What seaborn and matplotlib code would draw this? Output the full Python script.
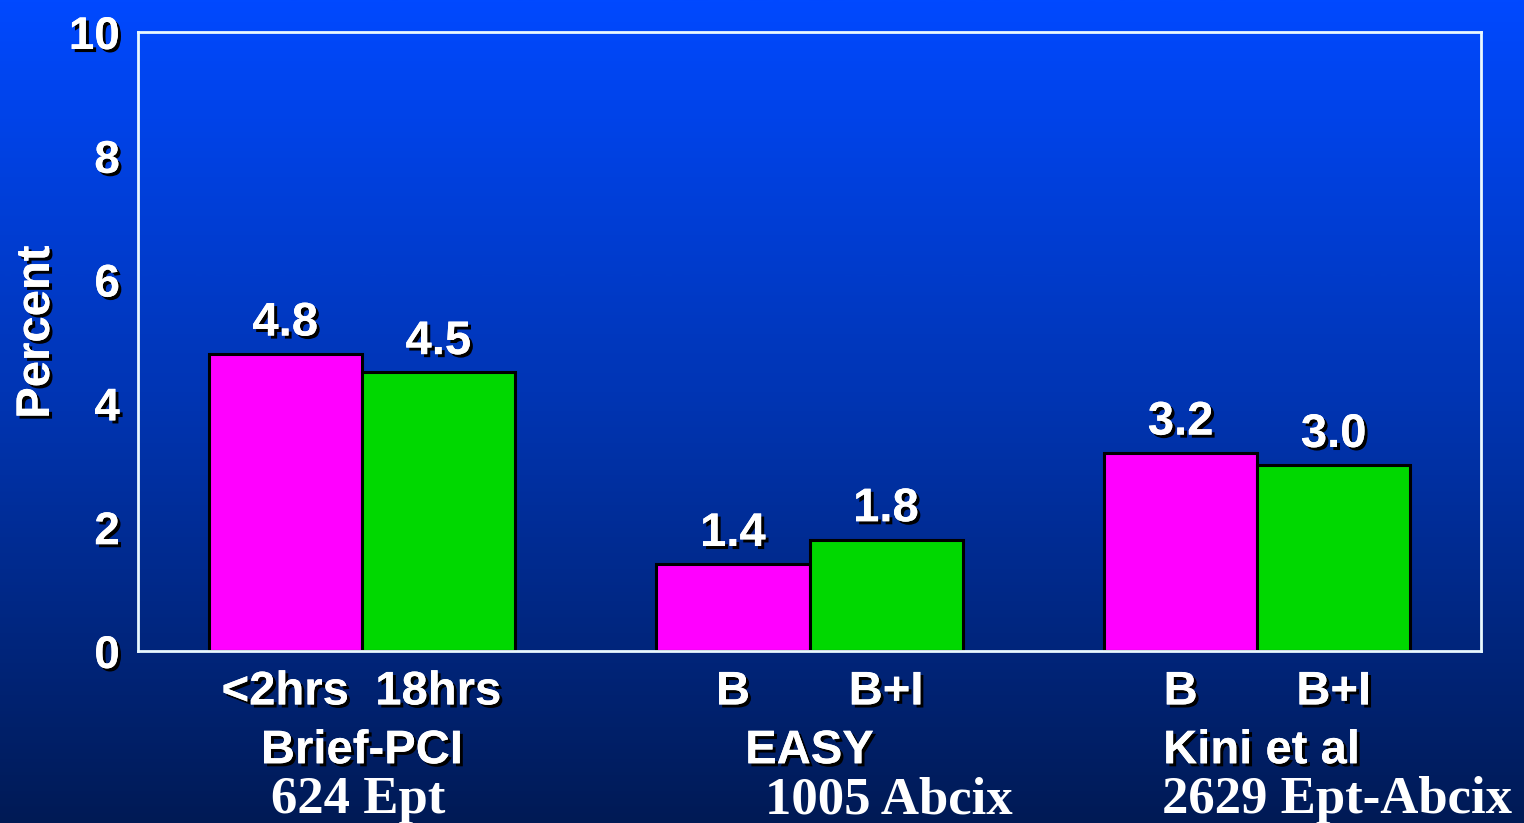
import numpy as np
import pandas as pd
import matplotlib
matplotlib.use("Agg")
import matplotlib.pyplot as plt
import matplotlib.patheffects as pe
from matplotlib.colors import LinearSegmentedColormap
import seaborn as sns

# Study groups, arm labels and event rates (percent)
studies = ["Brief-PCI", "EASY", "Kini et al"]
arm_labels = ["<2hrs", "18hrs", "B", "B+I", "B", "B+I"]
first_arm = [4.8, 1.4, 3.2]
second_arm = [4.5, 1.8, 3.0]
cohorts = ["624 Ept", "1005 Abcix", "2629 Ept-Abcix"]
y_ticks = [0, 2, 4, 6, 8, 10]

df = pd.DataFrame({
    "study": studies * 2,
    "arm": ["first"] * 3 + ["second"] * 3,
    "value": first_arm + second_arm,
})

sns.set_theme(style="white")
plt.rcParams["font.family"] = ["Liberation Sans", "DejaVu Sans"]

shadow = [pe.withSimplePatchShadow(offset=(2.2, -2.2), shadow_rgbFace="black", alpha=1.0),
          pe.Normal()]

fig = plt.figure(figsize=(15.24, 8.23), dpi=100)

# Vertical blue gradient behind everything
bg = fig.add_axes([0, 0, 1, 1], zorder=-10)
cmap = LinearSegmentedColormap.from_list("bg", ["#001A55", "#0034B0", "#0049FF"])
grad = np.linspace(0, 1, 512).reshape(-1, 1)
bg.imshow(grad, aspect="auto", cmap=cmap, origin="lower", extent=[0, 1, 0, 1])
bg.set_axis_off()

ax = fig.add_axes([138 / 1524, 172 / 823, (1481 - 138) / 1524, (651 - 32) / 823])
ax.patch.set_alpha(0)

sns.barplot(data=df, x="study", y="value", hue="arm", order=studies,
            hue_order=["first", "second"],
            palette=["#FF00FF", "#00D800"], width=0.684, gap=0,
            edgecolor="black", linewidth=2.2, saturation=1, legend=False, ax=ax)

ax.set_xlim(-0.5, 2.5)
ax.set_ylim(0, 10)
ax.set_yticks(y_ticks)
ax.set_xlabel("")
ax.set_ylabel("")

for side in ["left", "right", "top", "bottom"]:
    ax.spines[side].set_visible(True)
    ax.spines[side].set_color("#E8F8FF")
    ax.spines[side].set_linewidth(2)

# Bars in plotting order: study-major within each hue container
bars = [list(c) for c in ax.containers]
ordered = []
for i in range(len(studies)):
    ordered.append(bars[0][i])
    ordered.append(bars[1][i])

centers = [b.get_x() + b.get_width() / 2 for b in ordered]
ax.set_xticks(centers)
ax.set_xticklabels(arm_labels)

ax.tick_params(axis="x", length=0, pad=14, labelsize=34, labelcolor="white")
ax.tick_params(axis="y", length=0, pad=13, labelsize=33, labelcolor="white")
for lbl in ax.get_xticklabels() + ax.get_yticklabels():
    lbl.set_fontweight("bold")
    lbl.set_path_effects(shadow)

# Value labels above bars
for b in ordered:
    h = b.get_height()
    ax.annotate(f"{h:.1f}", (b.get_x() + b.get_width() / 2, h),
                xytext=(0, 6), textcoords="offset points",
                ha="center", va="bottom", fontsize=34, fontweight="bold",
                color="white", path_effects=shadow)

# Study names under the arm labels
trans = ax.get_xaxis_transform()
study_x = [0, 1, 2.01]
for x, name in zip(study_x, studies):
    ax.text(x, -0.162, name, transform=trans, ha="center", va="center",
            fontsize=34, fontweight="bold", color="white", path_effects=shadow)

# Cohort descriptions in serif
cohort_x = [-0.204, 0.901, 1.787]
for x, txt in zip(cohort_x, cohorts):
    ax.text(x, -0.262, txt, transform=trans, ha="left", va="baseline",
            fontsize=38, fontweight="bold", color="white",
            family=["Liberation Serif", "DejaVu Serif"])

fig.text(37 / 1524, 1 - 332 / 823, "Percent", rotation=90, ha="center", va="center",
         fontsize=34, fontweight="bold", color="white", path_effects=shadow)

fig.savefig("out.png", dpi=100)
